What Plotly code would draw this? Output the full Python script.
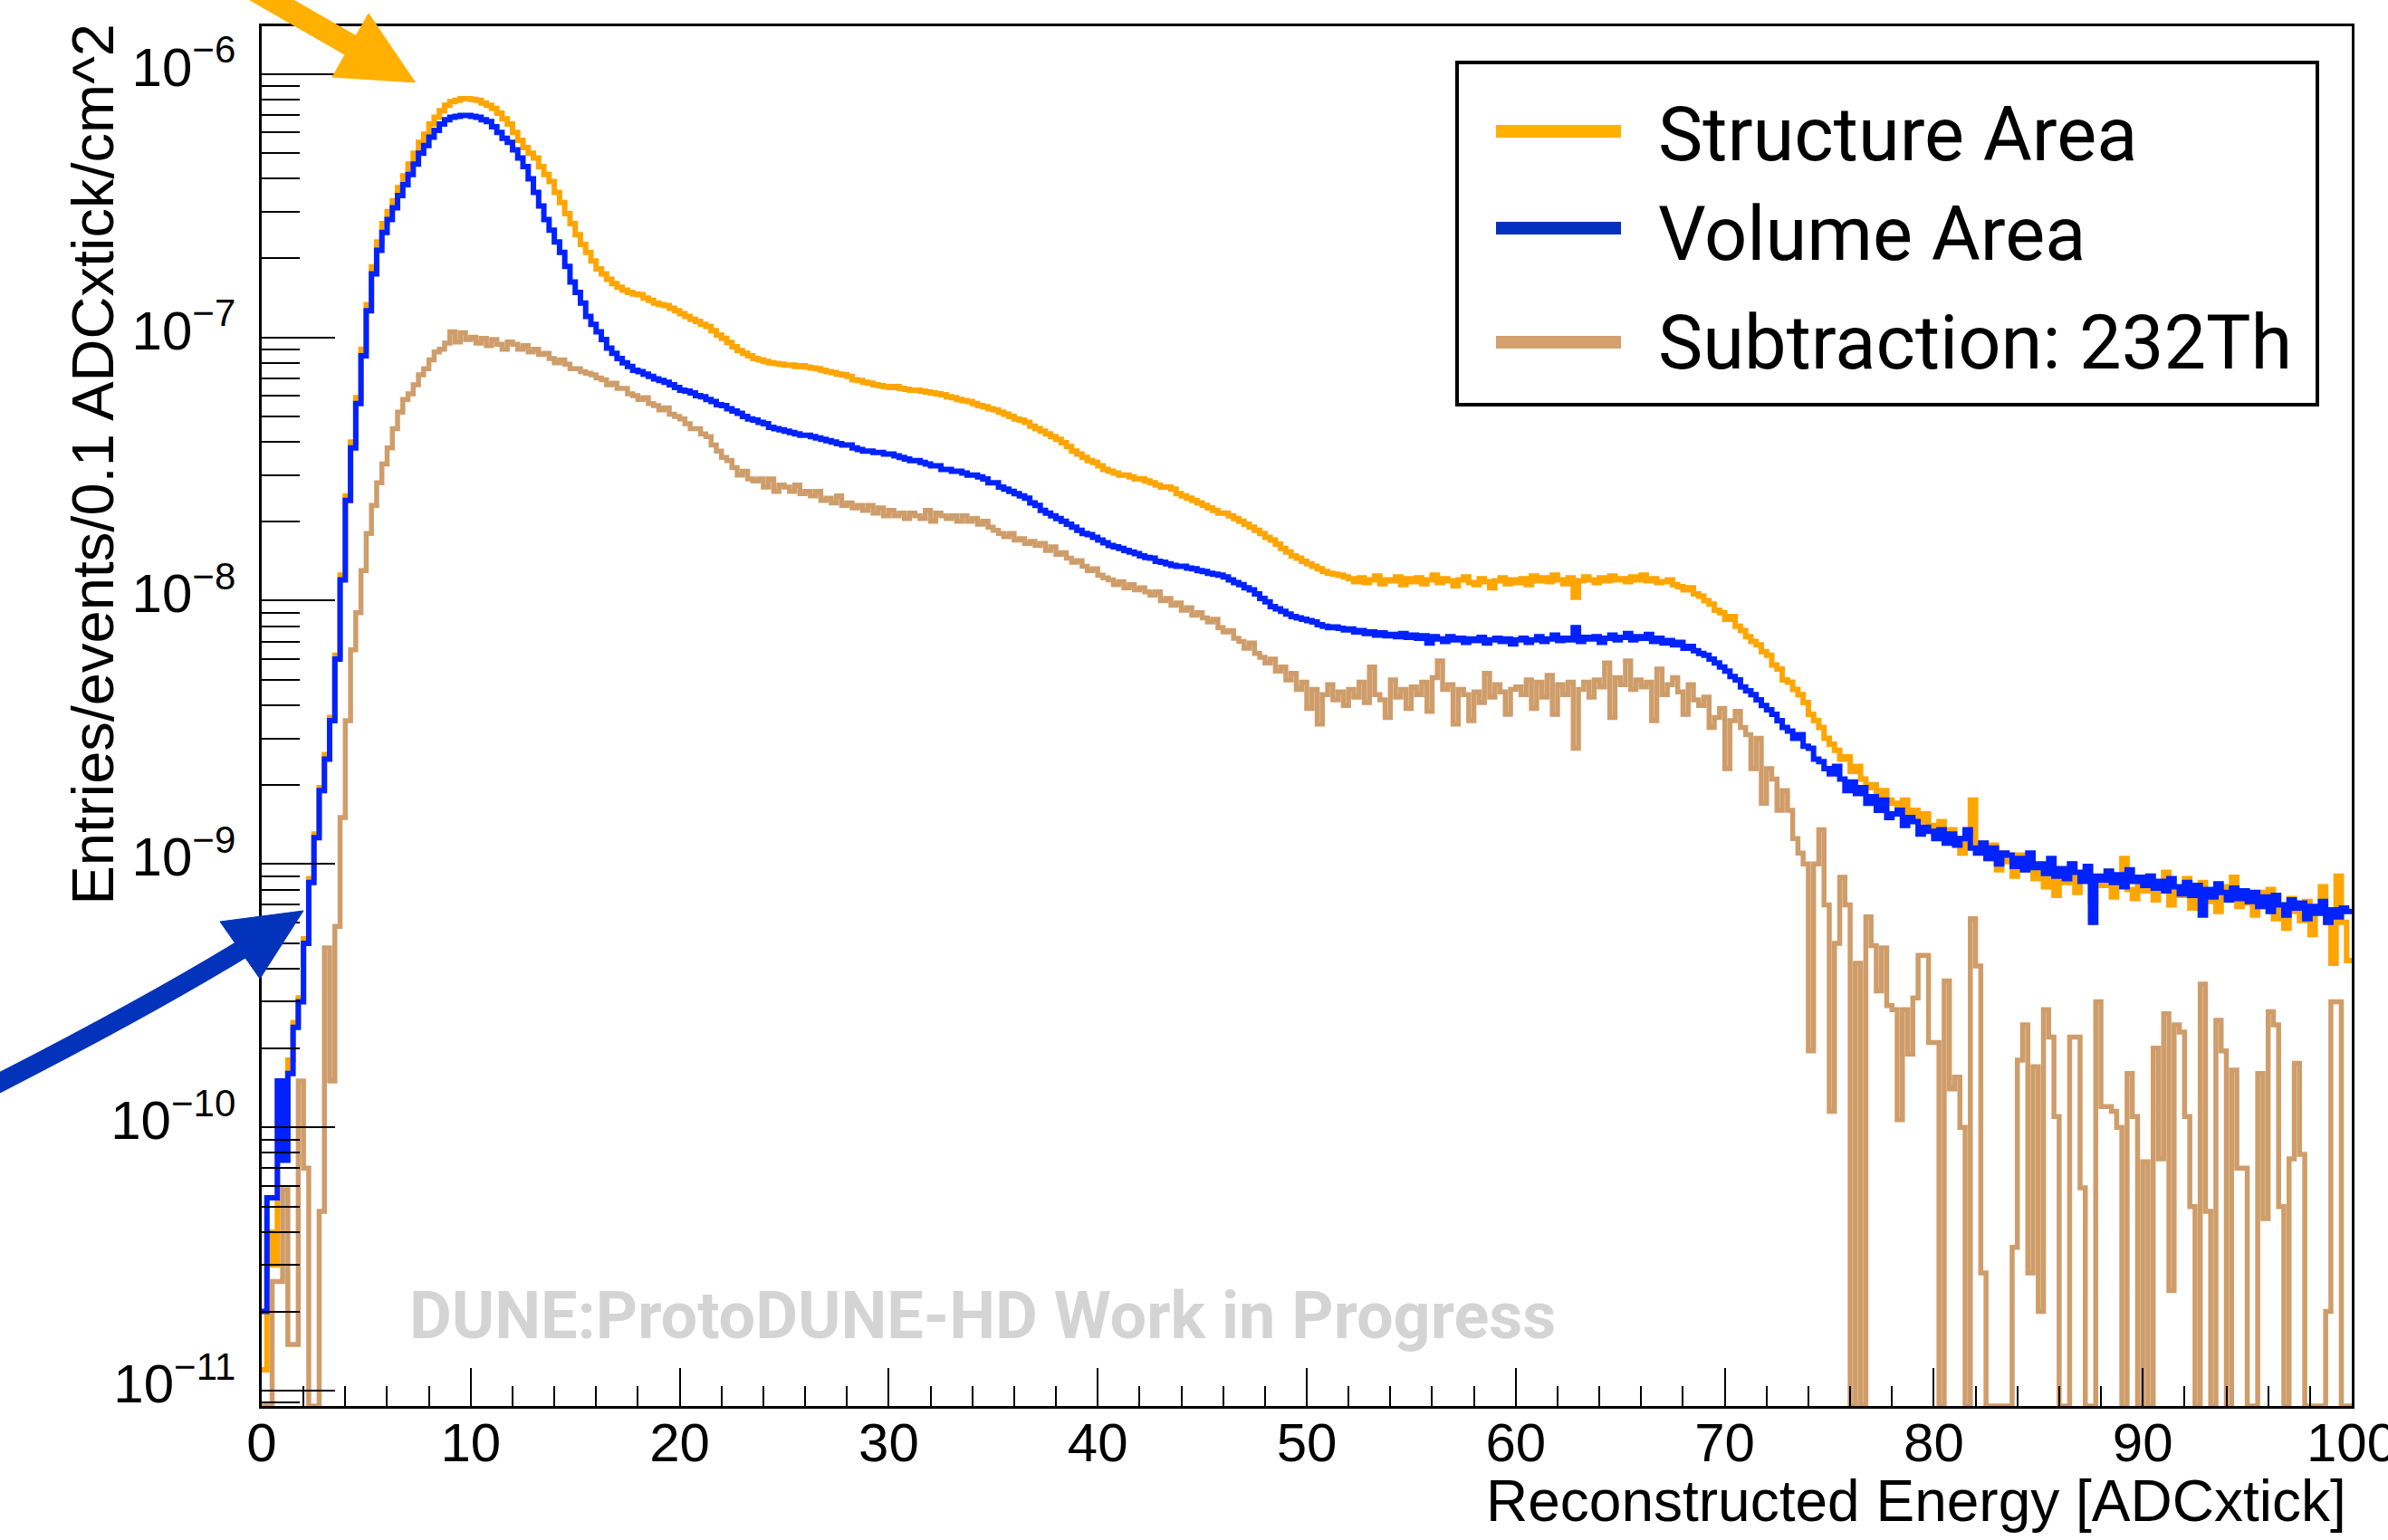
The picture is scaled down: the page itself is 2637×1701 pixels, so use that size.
import numpy as np
import plotly.graph_objects as go

# ---------------- data (bin width 0.25 ADCxtick, 0 -> 100) ----------------
BIN_WIDTH = 0.25

structure_area = [
    1.2e-11, 4.0e-11, 3.0e-11, 1.5e-10, 9.0e-11, 1.8e-10, 2.5e-10, 3.1e-10, 5.2e-10, 8.8e-10, 1.3e-9, 1.95e-9, 2.6e-9, 3.6e-9, 6.2e-9, 1.25e-8, 2.5e-8, 4.0e-8, 5.9e-8, 9.0e-8,
    1.33e-7, 1.85e-7, 2.3e-7, 2.7e-7, 3.0e-7, 3.3e-7, 3.7e-7, 4.1e-7, 4.55e-7, 5.0e-7, 5.5e-7, 5.9e-7, 6.45e-7, 6.85e-7, 7.25e-7, 7.6e-7, 7.85e-7, 7.95e-7, 8.05e-7, 8.05e-7,
    8.0e-7, 7.95e-7, 7.75e-7, 7.6e-7, 7.4e-7, 7.1e-7, 6.75e-7, 6.45e-7, 6.0e-7, 5.6e-7, 5.25e-7, 5.0e-7, 4.8e-7, 4.45e-7, 4.15e-7, 3.9e-7, 3.55e-7, 3.25e-7, 2.95e-7, 2.7e-7,
    2.45e-7, 2.25e-7, 2.1e-7, 1.95e-7, 1.82e-7, 1.74e-7, 1.66e-7, 1.6e-7, 1.55e-7, 1.51e-7, 1.48e-7, 1.46e-7, 1.45e-7, 1.41e-7, 1.38e-7, 1.35e-7, 1.33e-7, 1.32e-7, 1.29e-7, 1.26e-7,
    1.23e-7, 1.2e-7, 1.17e-7, 1.15e-7, 1.12e-7, 1.1e-7, 1.06e-7, 1.02e-7, 9.9e-8, 9.55e-8, 9.2e-8, 8.9e-8, 8.7e-8, 8.5e-8, 8.3e-8, 8.2e-8, 8.1e-8, 8.0e-8, 7.95e-8, 7.9e-8,
    7.85e-8, 7.85e-8, 7.75e-8, 7.8e-8, 7.7e-8, 7.65e-8, 7.6e-8, 7.5e-8, 7.4e-8, 7.35e-8, 7.25e-8, 7.2e-8, 7.1e-8, 6.9e-8, 6.85e-8, 6.75e-8, 6.7e-8, 6.6e-8, 6.55e-8, 6.5e-8,
    6.45e-8, 6.5e-8, 6.4e-8, 6.35e-8, 6.3e-8, 6.3e-8, 6.25e-8, 6.2e-8, 6.15e-8, 6.1e-8, 6.05e-8, 5.95e-8, 5.9e-8, 5.8e-8, 5.75e-8, 5.7e-8, 5.6e-8, 5.5e-8, 5.45e-8, 5.35e-8,
    5.3e-8, 5.2e-8, 5.1e-8, 5.0e-8, 4.9e-8, 4.85e-8, 4.75e-8, 4.6e-8, 4.5e-8, 4.4e-8, 4.3e-8, 4.2e-8, 4.1e-8, 3.98e-8, 3.85e-8, 3.7e-8, 3.6e-8, 3.5e-8, 3.4e-8, 3.35e-8,
    3.25e-8, 3.15e-8, 3.1e-8, 3.05e-8, 3.0e-8, 3.0e-8, 2.95e-8, 2.9e-8, 2.9e-8, 2.85e-8, 2.8e-8, 2.75e-8, 2.7e-8, 2.7e-8, 2.65e-8, 2.55e-8, 2.5e-8, 2.45e-8, 2.4e-8, 2.35e-8,
    2.3e-8, 2.25e-8, 2.2e-8, 2.15e-8, 2.15e-8, 2.1e-8, 2.05e-8, 2.0e-8, 1.95e-8, 1.9e-8, 1.85e-8, 1.8e-8, 1.74e-8, 1.7e-8, 1.64e-8, 1.58e-8, 1.53e-8, 1.48e-8, 1.45e-8, 1.41e-8,
    1.38e-8, 1.35e-8, 1.32e-8, 1.29e-8, 1.27e-8, 1.26e-8, 1.25e-8, 1.23e-8, 1.21e-8, 1.18e-8, 1.22e-8, 1.17e-8, 1.2e-8, 1.24e-8, 1.16e-8, 1.2e-8, 1.19e-8, 1.23e-8, 1.15e-8, 1.21e-8,
    1.18e-8, 1.22e-8, 1.16e-8, 1.2e-8, 1.25e-8, 1.17e-8, 1.21e-8, 1.19e-8, 1.14e-8, 1.2e-8, 1.23e-8, 1.17e-8, 1.15e-8, 1.21e-8, 1.18e-8, 1.12e-8, 1.19e-8, 1.22e-8, 1.16e-8, 1.2e-8,
    1.17e-8, 1.21e-8, 1.15e-8, 1.24e-8, 1.19e-8, 1.22e-8, 1.18e-8, 1.25e-8, 1.2e-8, 1.16e-8, 1.22e-8, 1.03e-8, 1.19e-8, 1.23e-8, 1.2e-8, 1.17e-8, 1.22e-8, 1.19e-8, 1.24e-8, 1.2e-8,
    1.21e-8, 1.18e-8, 1.23e-8, 1.2e-8, 1.25e-8, 1.19e-8, 1.21e-8, 1.17e-8, 1.18e-8, 1.2e-8, 1.15e-8, 1.13e-8, 1.1e-8, 1.12e-8, 1.06e-8, 1.04e-8, 1.0e-8, 9.7e-9, 9.2e-9, 9.0e-9,
    8.5e-9, 8.7e-9, 8.0e-9, 7.7e-9, 7.3e-9, 7.0e-9, 6.8e-9, 6.4e-9, 6.2e-9, 5.7e-9, 5.5e-9, 5.0e-9, 4.9e-9, 4.6e-9, 4.4e-9, 4.1e-9, 3.7e-9, 3.5e-9, 3.3e-9, 3.0e-9,
    2.85e-9, 2.7e-9, 2.5e-9, 2.55e-9, 2.25e-9, 2.35e-9, 2.1e-9, 1.95e-9, 2.0e-9, 1.8e-9, 1.9e-9, 1.75e-9, 1.7e-9, 1.6e-9, 1.75e-9, 1.5e-9, 1.6e-9, 1.45e-9, 1.55e-9, 1.4e-9,
    1.3e-9, 1.45e-9, 1.2e-9, 1.35e-9, 1.25e-9, 1.1e-9, 1.3e-9, 1.75e-9, 1.15e-9, 1.2e-9, 1.05e-9, 1.18e-9, 9.5e-10, 1.1e-9, 1.02e-9, 9.0e-10, 1.08e-9, 9.5e-10, 1.0e-9, 8.8e-10,
    9.5e-10, 8.2e-10, 9.8e-10, 7.6e-10, 9.2e-10, 8.5e-10, 1.0e-9, 7.8e-10, 8.9e-10, 9.6e-10, 7.2e-10, 8.8e-10, 8.3e-10, 9.4e-10, 7.5e-10, 8.6e-10, 1.05e-9, 8.0e-10, 7.4e-10, 8.7e-10,
    7.9e-10, 9.0e-10, 7.3e-10, 8.4e-10, 9.3e-10, 7.0e-10, 8.0e-10, 7.6e-10, 8.8e-10, 6.8e-10, 7.9e-10, 8.5e-10, 7.2e-10, 7.7e-10, 6.6e-10, 8.2e-10, 7.4e-10, 8.9e-10, 6.9e-10, 7.6e-10,
    7.1e-10, 6.4e-10, 7.8e-10, 6.9e-10, 8.0e-10, 6.2e-10, 7.0e-10, 5.7e-10, 7.4e-10, 6.6e-10, 6.1e-10, 7.2e-10, 5.4e-10, 6.8e-10, 8.2e-10, 6.0e-10, 4.2e-10, 9.0e-10, 6.0e-10, 4.3e-10,
]

volume_area = [
    2.0e-11, 5.4e-11, 5.4e-11, 1.5e-10, 7.5e-11, 1.6e-10, 2.4e-10, 3.0e-10, 5.0e-10, 8.5e-10, 1.26e-9, 1.9e-9, 2.5e-9, 3.5e-9, 6.0e-9, 1.2e-8, 2.4e-8, 3.8e-8, 5.6e-8, 8.5e-8,
    1.26e-7, 1.74e-7, 2.14e-7, 2.5e-7, 2.8e-7, 3.1e-7, 3.45e-7, 3.8e-7, 4.15e-7, 4.55e-7, 5.0e-7, 5.35e-7, 5.75e-7, 6.1e-7, 6.45e-7, 6.7e-7, 6.85e-7, 6.9e-7, 6.95e-7, 6.95e-7,
    6.9e-7, 6.85e-7, 6.7e-7, 6.6e-7, 6.3e-7, 6.0e-7, 5.7e-7, 5.5e-7, 5.15e-7, 4.8e-7, 4.45e-7, 4.0e-7, 3.55e-7, 3.15e-7, 2.8e-7, 2.55e-7, 2.3e-7, 2.1e-7, 1.86e-7, 1.62e-7,
    1.48e-7, 1.35e-7, 1.2e-7, 1.12e-7, 1.05e-7, 9.8e-8, 9.1e-8, 8.7e-8, 8.3e-8, 8.0e-8, 7.75e-8, 7.5e-8, 7.4e-8, 7.25e-8, 7.1e-8, 6.95e-8, 6.85e-8, 6.75e-8, 6.6e-8, 6.45e-8,
    6.3e-8, 6.25e-8, 6.15e-8, 6.0e-8, 5.95e-8, 5.8e-8, 5.7e-8, 5.55e-8, 5.5e-8, 5.35e-8, 5.25e-8, 5.15e-8, 5.0e-8, 4.9e-8, 4.85e-8, 4.75e-8, 4.7e-8, 4.55e-8, 4.5e-8, 4.45e-8,
    4.4e-8, 4.35e-8, 4.3e-8, 4.25e-8, 4.25e-8, 4.2e-8, 4.15e-8, 4.1e-8, 4.05e-8, 4.0e-8, 3.95e-8, 3.9e-8, 3.9e-8, 3.8e-8, 3.75e-8, 3.7e-8, 3.7e-8, 3.65e-8, 3.65e-8, 3.6e-8,
    3.6e-8, 3.55e-8, 3.5e-8, 3.45e-8, 3.4e-8, 3.4e-8, 3.35e-8, 3.3e-8, 3.25e-8, 3.25e-8, 3.15e-8, 3.15e-8, 3.1e-8, 3.1e-8, 3.05e-8, 3.0e-8, 3.0e-8, 2.95e-8, 2.9e-8, 2.8e-8,
    2.8e-8, 2.7e-8, 2.65e-8, 2.6e-8, 2.55e-8, 2.5e-8, 2.45e-8, 2.35e-8, 2.3e-8, 2.2e-8, 2.15e-8, 2.1e-8, 2.05e-8, 2.0e-8, 1.95e-8, 1.9e-8, 1.85e-8, 1.8e-8, 1.78e-8, 1.74e-8,
    1.7e-8, 1.66e-8, 1.62e-8, 1.6e-8, 1.58e-8, 1.55e-8, 1.53e-8, 1.51e-8, 1.48e-8, 1.46e-8, 1.45e-8, 1.41e-8, 1.4e-8, 1.38e-8, 1.36e-8, 1.35e-8, 1.35e-8, 1.33e-8, 1.32e-8, 1.3e-8,
    1.29e-8, 1.27e-8, 1.26e-8, 1.25e-8, 1.23e-8, 1.2e-8, 1.17e-8, 1.15e-8, 1.12e-8, 1.1e-8, 1.06e-8, 1.02e-8, 9.9e-9, 9.5e-9, 9.3e-9, 9.1e-9, 8.9e-9, 8.7e-9, 8.6e-9, 8.5e-9,
    8.4e-9, 8.3e-9, 8.1e-9, 8.0e-9, 7.9e-9, 7.95e-9, 7.85e-9, 7.75e-9, 7.8e-9, 7.6e-9, 7.7e-9, 7.5e-9, 7.6e-9, 7.4e-9, 7.55e-9, 7.35e-9, 7.45e-9, 7.3e-9, 7.5e-9, 7.25e-9,
    7.4e-9, 7.2e-9, 7.35e-9, 6.9e-9, 7.3e-9, 7.15e-9, 7.0e-9, 7.3e-9, 7.1e-9, 7.2e-9, 6.95e-9, 7.15e-9, 7.05e-9, 7.25e-9, 6.9e-9, 7.1e-9, 7.2e-9, 7.0e-9, 7.15e-9, 6.85e-9,
    7.1e-9, 7.2e-9, 6.95e-9, 7.1e-9, 7.3e-9, 7.0e-9, 7.15e-9, 7.4e-9, 7.05e-9, 7.2e-9, 7.1e-9, 7.9e-9, 7.0e-9, 7.25e-9, 7.15e-9, 7.3e-9, 6.95e-9, 7.2e-9, 7.4e-9, 7.1e-9,
    7.25e-9, 7.5e-9, 7.1e-9, 7.3e-9, 7.2e-9, 7.45e-9, 7.0e-9, 7.2e-9, 6.9e-9, 7.05e-9, 6.8e-9, 6.95e-9, 6.6e-9, 6.7e-9, 6.45e-9, 6.3e-9, 6.2e-9, 6.0e-9, 5.8e-9, 5.6e-9,
    5.4e-9, 5.15e-9, 5.0e-9, 4.7e-9, 4.55e-9, 4.4e-9, 4.2e-9, 4.0e-9, 3.85e-9, 3.7e-9, 3.5e-9, 3.3e-9, 3.2e-9, 3.0e-9, 3.1e-9, 2.8e-9, 2.75e-9, 2.5e-9, 2.45e-9, 2.3e-9,
    2.2e-9, 2.35e-9, 2.1e-9, 1.9e-9, 2.05e-9, 1.85e-9, 1.95e-9, 1.7e-9, 1.8e-9, 1.6e-9, 1.75e-9, 1.5e-9, 1.55e-9, 1.6e-9, 1.4e-9, 1.5e-9, 1.45e-9, 1.3e-9, 1.38e-9, 1.33e-9,
    1.25e-9, 1.35e-9, 1.2e-9, 1.3e-9, 1.18e-9, 1.25e-9, 1.35e-9, 1.15e-9, 1.1e-9, 1.2e-9, 1.05e-9, 1.15e-9, 1.0e-9, 1.1e-9, 1.08e-9, 9.8e-10, 1.05e-9, 9.5e-10, 1.1e-9, 9.7e-10,
    1.0e-9, 9.2e-10, 1.05e-9, 9.0e-10, 9.6e-10, 8.8e-10, 1.0e-9, 9.3e-10, 8.6e-10, 9.8e-10, 6.0e-10, 9.0e-10, 8.7e-10, 9.4e-10, 8.5e-10, 9.1e-10, 8.2e-10, 9.5e-10, 8.6e-10, 8.9e-10,
    8.3e-10, 9.0e-10, 8.1e-10, 8.6e-10, 7.9e-10, 8.8e-10, 8.2e-10, 7.7e-10, 8.5e-10, 7.6e-10, 8.3e-10, 6.4e-10, 8.0e-10, 7.5e-10, 8.4e-10, 7.8e-10, 7.3e-10, 8.1e-10, 7.4e-10, 7.9e-10,
    7.2e-10, 7.8e-10, 6.9e-10, 7.5e-10, 6.6e-10, 7.6e-10, 7.0e-10, 6.4e-10, 7.3e-10, 6.8e-10, 7.1e-10, 6.2e-10, 6.9e-10, 6.5e-10, 7.2e-10, 6.0e-10, 6.7e-10, 6.3e-10, 6.8e-10, 6.6e-10,
]

subtraction_232th = [
    0, 0, 2.6e-11, 2.6e-11, 5.8e-11, 1.5e-11, 1.5e-11, 1.5e-10, 7.0e-11, 0, 0, 4.8e-11, 4.8e-10, 1.5e-10, 5.8e-10, 1.5e-9, 3.5e-9, 6.5e-9, 9.0e-9, 1.3e-8,
    1.8e-8, 2.3e-8, 2.8e-8, 3.3e-8, 3.8e-8, 4.5e-8, 5.2e-8, 5.8e-8, 6.1e-8, 6.6e-8, 7.2e-8, 7.6e-8, 8.2e-8, 8.8e-8, 9.0e-8, 9.5e-8, 1.05e-7, 9.6e-8, 1.04e-7, 9.8e-8,
    1.0e-7, 9.5e-8, 9.9e-8, 9.3e-8, 9.8e-8, 9.4e-8, 9.0e-8, 9.6e-8, 9.4e-8, 9.0e-8, 9.3e-8, 8.8e-8, 9.0e-8, 8.6e-8, 8.7e-8, 8.3e-8, 8.0e-8, 8.2e-8, 7.9e-8, 7.6e-8,
    7.6e-8, 7.4e-8, 7.3e-8, 7.2e-8, 7.0e-8, 6.9e-8, 6.6e-8, 6.7e-8, 6.4e-8, 6.4e-8, 6.1e-8, 6.0e-8, 5.8e-8, 5.9e-8, 5.6e-8, 5.5e-8, 5.3e-8, 5.4e-8, 5.1e-8, 5.0e-8,
    4.9e-8, 4.7e-8, 4.5e-8, 4.5e-8, 4.3e-8, 4.2e-8, 3.9e-8, 3.7e-8, 3.5e-8, 3.4e-8, 3.2e-8, 3.0e-8, 3.1e-8, 2.9e-8, 2.85e-8, 2.9e-8, 2.7e-8, 2.9e-8, 2.6e-8, 2.75e-8,
    2.7e-8, 2.6e-8, 2.75e-8, 2.55e-8, 2.6e-8, 2.5e-8, 2.6e-8, 2.4e-8, 2.45e-8, 2.35e-8, 2.5e-8, 2.3e-8, 2.35e-8, 2.25e-8, 2.3e-8, 2.2e-8, 2.3e-8, 2.15e-8, 2.25e-8, 2.1e-8,
    2.2e-8, 2.1e-8, 2.15e-8, 2.05e-8, 2.15e-8, 2.1e-8, 2.05e-8, 2.2e-8, 2.0e-8, 2.15e-8, 2.1e-8, 2.05e-8, 2.1e-8, 2.0e-8, 2.1e-8, 2.0e-8, 2.05e-8, 1.95e-8, 2.0e-8, 1.9e-8,
    1.85e-8, 1.8e-8, 1.75e-8, 1.8e-8, 1.7e-8, 1.72e-8, 1.65e-8, 1.68e-8, 1.62e-8, 1.65e-8, 1.55e-8, 1.6e-8, 1.5e-8, 1.52e-8, 1.45e-8, 1.4e-8, 1.42e-8, 1.35e-8, 1.3e-8, 1.32e-8,
    1.25e-8, 1.22e-8, 1.2e-8, 1.15e-8, 1.18e-8, 1.12e-8, 1.15e-8, 1.1e-8, 1.12e-8, 1.08e-8, 1.05e-8, 1.08e-8, 1.0e-8, 1.02e-8, 9.6e-9, 9.8e-9, 9.2e-9, 9.4e-9, 8.8e-9, 9.0e-9,
    8.6e-9, 8.3e-9, 8.5e-9, 7.9e-9, 7.6e-9, 7.7e-9, 7.2e-9, 7.0e-9, 6.6e-9, 6.9e-9, 6.3e-9, 6.1e-9, 5.8e-9, 6.0e-9, 5.4e-9, 5.6e-9, 5.0e-9, 5.3e-9, 4.6e-9, 4.9e-9,
    3.9e-9, 4.6e-9, 3.4e-9, 4.4e-9, 4.8e-9, 4.2e-9, 4.5e-9, 4.0e-9, 4.6e-9, 4.3e-9, 4.9e-9, 4.1e-9, 5.6e-9, 4.4e-9, 4.2e-9, 3.6e-9, 5.0e-9, 4.3e-9, 4.6e-9, 3.9e-9,
    4.7e-9, 4.4e-9, 4.9e-9, 3.8e-9, 5.1e-9, 5.9e-9, 4.6e-9, 4.8e-9, 3.4e-9, 4.6e-9, 4.4e-9, 3.5e-9, 4.5e-9, 4.1e-9, 5.3e-9, 4.3e-9, 4.8e-9, 4.5e-9, 3.7e-9, 4.6e-9,
    4.7e-9, 4.4e-9, 5.0e-9, 3.9e-9, 4.9e-9, 4.3e-9, 5.2e-9, 3.7e-9, 4.8e-9, 4.4e-9, 4.9e-9, 2.75e-9, 4.6e-9, 4.9e-9, 4.3e-9, 5.0e-9, 4.7e-9, 5.8e-9, 3.6e-9, 5.1e-9,
    4.8e-9, 5.9e-9, 4.6e-9, 5.0e-9, 4.7e-9, 4.9e-9, 3.5e-9, 5.5e-9, 4.4e-9, 4.8e-9, 5.1e-9, 4.5e-9, 3.7e-9, 4.8e-9, 4.2e-9, 4.0e-9, 4.3e-9, 3.3e-9, 3.6e-9, 3.9e-9,
    2.3e-9, 3.5e-9, 3.8e-9, 3.3e-9, 3.1e-9, 2.3e-9, 3.0e-9, 1.7e-9, 2.3e-9, 2.1e-9, 1.6e-9, 1.9e-9, 1.6e-9, 1.25e-9, 1.1e-9, 1.0e-9, 1.95e-10, 1.0e-9, 1.35e-9, 7.0e-10,
    1.15e-10, 5.0e-10, 8.9e-10, 7.0e-10, 0, 4.2e-10, 0, 6.3e-10, 4.9e-10, 3.3e-10, 4.8e-10, 2.9e-10, 2.8e-10, 1.07e-10, 2.8e-10, 1.9e-10, 3.1e-10, 4.5e-10, 4.5e-10, 2.1e-10,
    2.1e-10, 0, 3.6e-10, 1.4e-10, 1.55e-10, 1.0e-10, 0, 6.2e-10, 4.1e-10, 2.8e-11, 0, 0, 0, 0, 0, 3.5e-11, 1.8e-10, 2.45e-10, 2.8e-11, 1.7e-10,
    2.0e-11, 2.8e-10, 2.2e-10, 1.1e-10, 0, 0, 2.2e-10, 2.2e-10, 5.9e-11, 0, 0, 3.0e-10, 1.2e-10, 1.2e-10, 1.15e-10, 1.0e-10, 0, 1.6e-10, 1.1e-10, 0,
    7.4e-11, 0, 2.0e-10, 7.6e-11, 2.7e-10, 2.4e-11, 2.45e-10, 2.3e-10, 1.1e-10, 5.0e-11, 0, 3.5e-10, 4.8e-11, 0, 2.55e-10, 1.95e-10, 0, 1.65e-10, 7.0e-11, 7.0e-11,
    0, 0, 1.6e-10, 4.5e-11, 2.75e-10, 2.45e-10, 5.0e-11, 0, 7.6e-11, 1.75e-10, 7.9e-11, 0, 0, 0, 0, 2.0e-11, 3.0e-10, 3.0e-10, 0, 0,
]

series_names = ["Structure Area", "Volume Area", "Subtraction: 232Th"]
x_tick_values = [0, 10, 20, 30, 40, 50, 60, 70, 80, 90, 100]
y_tick_values = [1e-11, 1e-10, 1e-9, 1e-8, 1e-7, 1e-6]
y_tick_labels = ["10<sup>\u221211</sup>", "10<sup>\u221210</sup>", "10<sup>\u22129</sup>",
                 "10<sup>\u22128</sup>", "10<sup>\u22127</sup>", "10<sup>\u22126</sup>"]

# ---------------- layout geometry (pixels) ----------------
W, H = 2637, 1701
L, R, T, B = 289, 2597, 29, 1553
Y_RANGE = [-11.058, -5.819]
X_RANGE = [0, 100]


def px(x):
    return (x - L) / (R - L)


def py(y):
    return (B - y) / (B - T)


def step(values):
    v = np.asarray(values, dtype=float)
    floor = 10 ** Y_RANGE[0]
    v = np.where(v > 0, v, floor)  # empty bins drawn on the axis floor, like ROOT
    edges = np.arange(len(v) + 1) * BIN_WIDTH
    return edges, np.append(v, v[-1])


line_colors = ["#FFA500", "#0022FF", "#CF9D6A"]
line_widths = [6, 6, 5.5]
legend_colors = ["#FFB000", "#0431BE", "#D3A06E"]

fig = go.Figure()
for name, vals, col, lw in zip(series_names, [structure_area, volume_area, subtraction_232th],
                               line_colors, line_widths):
    xs, ys = step(vals)
    fig.add_trace(go.Scatter(x=xs, y=ys, mode="lines", name=name,
                             line=dict(color=col, width=lw, shape="hv"),
                             showlegend=False, hoverinfo="skip"))

minor_y = [m * 10.0 ** e for e in range(-12, -5) for m in range(2, 10)
           if Y_RANGE[0] < np.log10(m * 10.0 ** e) < Y_RANGE[1]]

axis_font = "Liberation Sans, Arial, Helvetica, sans-serif"
fig.update_layout(
    width=W, height=H,
    margin=dict(l=L, r=W - R, t=T, b=H - B, pad=0, autoexpand=False),
    paper_bgcolor="white", plot_bgcolor="white",
    showlegend=False,
    font=dict(family=axis_font, color="black"),
    xaxis=dict(
        range=X_RANGE, tickmode="array", tickvals=x_tick_values,
        ticks="inside", ticklen=42, tickwidth=2, tickcolor="black",
        minor=dict(dtick=2, tick0=0, ticks="inside", ticklen=22, tickwidth=2, tickcolor="black"),
        showline=True, linecolor="black", linewidth=2.5, mirror=True,
        showgrid=False, zeroline=False, automargin=False,
        tickfont=dict(family=axis_font, size=60, color="black"),
        ticklabelstandoff=-14, ticklabeloverflow="allow",
    ),
    yaxis=dict(
        type="log", range=Y_RANGE, tickmode="array",
        tickvals=y_tick_values, ticktext=y_tick_labels,
        ticks="inside", ticklen=81, tickwidth=2, tickcolor="black",
        minor=dict(tickmode="array", tickvals=minor_y, ticks="inside", ticklen=42,
                   tickwidth=2, tickcolor="black"),
        showline=True, linecolor="black", linewidth=2.5, mirror=True,
        showgrid=False, zeroline=False, automargin=False,
        tickfont=dict(family=axis_font, size=60, color="black"),
        ticklabelstandoff=14, ticklabelshift=-8,
    ),
)

annotations = [
    dict(text="Entries/events/0.1 ADCxtick/cm^2", x=px(102), y=py(25), xref="paper", yref="paper",
         textangle=-90, xanchor="center", yanchor="top", showarrow=False,
         font=dict(family=axis_font, size=65, color="black")),
    dict(text="Reconstructed Energy [ADCxtick]", x=px(2593), y=py(1658), xref="paper", yref="paper",
         xanchor="right", yanchor="middle", showarrow=False,
         font=dict(family=axis_font, size=64, color="black")),
    dict(text="DUNE:ProtoDUNE-HD Work in Progress", x=px(450), y=py(1453), xref="paper", yref="paper",
         xanchor="left", yanchor="middle", showarrow=False,
         font=dict(family="Roboto, sans-serif", size=72, color="#D4D4D4", weight="bold")),
]

legend_line_y = [145, 252, 378]
legend_text_y = [148, 258, 379]
shapes = [
    dict(type="rect", xref="paper", yref="paper", x0=px(1609), x1=px(2559), y0=py(447), y1=py(69),
         line=dict(color="black", width=4), fillcolor="white", layer="above"),
]
for name, col, ly, ty in zip(series_names, legend_colors, legend_line_y, legend_text_y):
    shapes.append(dict(type="line", xref="paper", yref="paper", x0=px(1652), x1=px(1790),
                       y0=py(ly), y1=py(ly), line=dict(color=col, width=14)))
    annotations.append(dict(text=name, x=px(1829), y=py(ty), xref="paper", yref="paper",
                            xanchor="left", yanchor="middle", showarrow=False,
                            font=dict(family="Roboto, sans-serif", size=83, color="black")))


def path_from(points, close=True):
    s = "M " + " L ".join(f"{px(a):.5f},{py(b):.5f}" for a, b in points)
    return s + (" Z" if close else "")


# orange arrow (straight, pointing at the Structure peak)
mid = np.array([387.0, 50.0])
d = np.array([-0.867, -0.498])
n = np.array([0.498, -0.867])
far = mid + 160 * d
hw = 12
orange_pts = [tuple(far + hw * n), tuple(mid + hw * n), (407, 15), (458.5, 91), (367, 85),
              tuple(mid - hw * n), tuple(far - hw * n)]
shapes.append(dict(type="path", xref="paper", yref="paper", path=path_from(orange_pts),
                   fillcolor="#FFB000", line=dict(color="#FFB000", width=1), layer="above"))

# blue arrow (curved, pointing at the Volume rising edge)
p0, p1, p2 = (-40, 1216), (150, 1120), (268, 1048)
blue_shaft = (f"M {px(p0[0]):.5f},{py(p0[1]):.5f} Q {px(p1[0]):.5f},{py(p1[1]):.5f} "
              f"{px(p2[0]):.5f},{py(p2[1]):.5f}")
shapes.append(dict(type="path", xref="paper", yref="paper", path=blue_shaft,
                   fillcolor="rgba(0,0,0,0)", line=dict(color="#0433BB", width=21), layer="above"))
shapes.append(dict(type="path", xref="paper", yref="paper",
                   path=path_from([(243, 1018), (335, 1006), (287, 1081)]),
                   fillcolor="#0433BB", line=dict(color="#0433BB", width=1), layer="above"))

fig.update_layout(annotations=annotations, shapes=shapes)
fig.write_html("out.html")
